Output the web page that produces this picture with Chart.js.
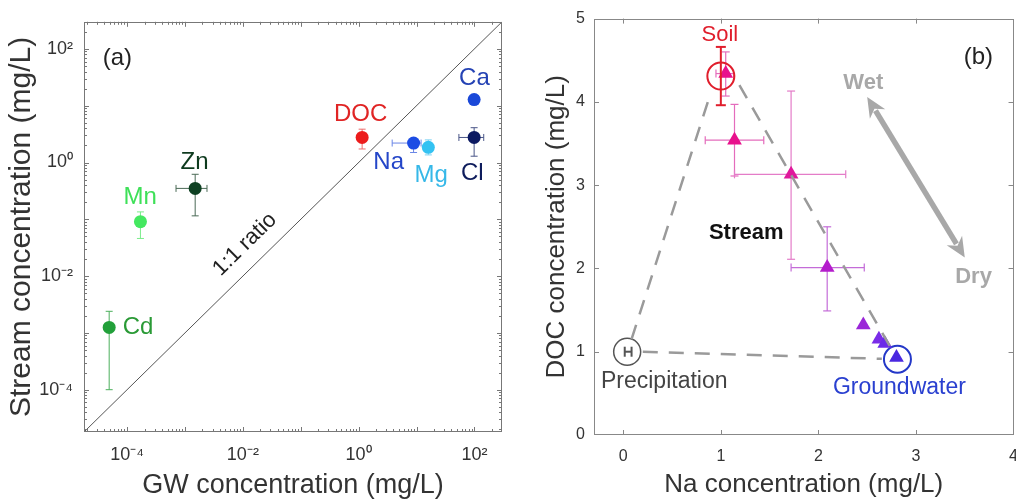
<!DOCTYPE html>
<html>
<head>
<meta charset="utf-8">
<script src="https://cdn.jsdelivr.net/npm/chart.js@4.4.0/dist/chart.umd.min.js"></script>
<style>
  html, body { margin: 0; padding: 0; background: #fff; overflow: hidden; }
  #wrapA { position: absolute; left: 0; top: 0; width: 515px; height: 499px; }
  #wrapB { position: absolute; left: 520px; top: 0; width: 510px; height: 499px; }
</style>
</head>
<body>
<div id="wrapA"><canvas id="chartA" width="515" height="499"></canvas></div>
<div id="wrapB"><canvas id="chartB" width="510" height="499"></canvas></div>
<script>
const FONT = '"Liberation Sans", Arial, Helvetica, sans-serif';

// ---- panel (a): groundwater vs stream concentration ----
const elements     = ['Cd', 'Mn', 'Zn', 'DOC', 'Na', 'Mg', 'Ca', 'Cl'];
const gwConc       = [4.9e-5, 1.7e-4, 1.5e-3, 1.15, 8.9, 16, 99, 99];
const gwLow        = [null, null, 7e-4, null, 3.8, null, null, 54];
const gwHigh       = [null, null, 2.4e-3, null, 12, null, null, 145];
const streamConc   = [1.25e-3, 0.091, 0.35, 2.76, 2.2, 1.85, 12.8, 2.76];
const streamLow    = [1e-4, 0.046, 0.115, 1.73, 1.5, 1.36, null, 1.29];
const streamHigh   = [2.4e-3, 0.135, 0.62, 3.86, 2.6, 2.5, null, 4.1];
const elementColors = ['#22a03a', '#44e860', '#0e4022', '#ec1c1c', '#1c4ce4', '#34c2f2', '#1a48d8', '#0c1a62'];
const elementErrColors = ['#4caf5c', '#7cec8c', '#4a6a56', '#ee6a6a', '#6a86e6', '#7ad2f2', '#6a86e0', '#4a5688'];
const axisRangeA   = [1.8e-5, 300];
const tickValsA    = [1e-4, 1e-2, 1, 100];
const tickTextA    = ['10⁻⁴', '10⁻²', '10⁰', '10²'];

// ---- panel (b): Na vs DOC ----
const naStream     = [1.05, 1.14, 1.72, 2.09, 2.46, 2.62, 2.68, 2.80];
const docStream    = [4.34, 3.54, 3.13, 2.01, 1.32, 1.15, 1.10, 0.93];
const naLow        = [0.95, 0.84, 1.14, 1.72, null, null, null, null];
const naHigh       = [1.13, 1.44, 2.28, 2.47, null, null, null, null];
const docLow       = [4.07, 3.11, 2.11, 1.49, null, null, null, null];
const docHigh      = [4.60, 3.97, 4.13, 2.50, null, null, null, null];
const streamColors = ['#e8108c', '#e8108c', '#e0189c', '#b41ccc', '#9a26d8', '#7a2ce8', '#6a2ce8', '#4a28e0'];
const streamErrColors = ['#e46cbc', '#e46cbc', '#e47cc8', '#c46cd8', '#b070e0', '#9a70e8', '#9070e8', '#8070e0'];

const endMembers   = ['Soil', 'Precipitation', 'Groundwater'];
const emNa         = [1.0, 0.04, 2.81];
const emDoc        = [4.31, 1.0, 0.91];
const emNaLow      = [null, 0.015, null];
const emNaHigh     = [null, 0.085, null];
const emDocLow     = [3.96, null, null];
const emDocHigh    = [4.66, null, null];
const emColors     = ['#e01e2c', '#555555', '#2438c8'];

const mixLeftNa    = [0.085, 0.90];
const mixLeftDoc   = [1.15, 4.12];
const mixRightNa   = [1.19, 2.74];
const mixRightDoc  = [4.20, 1.05];
const mixBottomNa  = [0.20, 2.65];
const mixBottomDoc = [1.00, 0.915];

const wetDryNa     = [2.5, 3.5];
const wetDryDoc    = [4.06, 2.13];

const tickValsBx   = [0, 1, 2, 3, 4];
const tickValsBy   = [0, 1, 2, 3, 4, 5];

const pts = (xs, ys) => xs.map((v, i) => ({ x: v, y: ys[i] }));

// box with inward ticks (matlab style)
const boxPlugin = {
  id: 'box',
  afterDraw(chart, args, opts) {
    const { ctx, chartArea: a, scales: { x, y } } = chart;
    ctx.save();
    ctx.strokeStyle = opts.color;
    ctx.lineWidth = 1;
    ctx.strokeRect(Math.round(a.left) + 0.5, Math.round(a.top) + 0.5,
                   Math.round(a.right - a.left) - 1, Math.round(a.bottom - a.top) - 1);
    const seg = (x1, y1, x2, y2) => { ctx.beginPath(); ctx.moveTo(x1, y1); ctx.lineTo(x2, y2); ctx.stroke(); };
    const mark = (vals, len) => {
      vals.x.forEach(v => {
        const p = Math.round(x.getPixelForValue(v)) + 0.5;
        if (p < a.left || p > a.right) return;
        seg(p, a.bottom, p, a.bottom - len);
        seg(p, a.top, p, a.top + len);
      });
      vals.y.forEach(v => {
        const p = Math.round(y.getPixelForValue(v)) + 0.5;
        if (p < a.top || p > a.bottom) return;
        seg(a.left, p, a.left + len, p);
        seg(a.right, p, a.right - len, p);
      });
    };
    mark(opts.major, 5);
    if (opts.minor) mark(opts.minor, 3);
    ctx.restore();
  }
};

function drawErrSet(chart, s) {
  const { ctx, scales: { x, y } } = chart;
  ctx.save();
  ctx.lineWidth = s.width;
  s.x.forEach((xv, i) => {
    const col = Array.isArray(s.color) ? s.color[i] : s.color;
    ctx.strokeStyle = col;
    const px = x.getPixelForValue(xv), py = y.getPixelForValue(s.y[i]);
    const line = (x1, y1, x2, y2) => { ctx.beginPath(); ctx.moveTo(x1, y1); ctx.lineTo(x2, y2); ctx.stroke(); };
    if (s.ylo && s.ylo[i] != null) {
      const p1 = y.getPixelForValue(s.ylo[i]), p2 = y.getPixelForValue(s.yhi[i]);
      line(px, p1, px, p2);
      line(px - s.cap, p1, px + s.cap, p1);
      line(px - s.cap, p2, px + s.cap, p2);
    }
    if (s.xlo && s.xlo[i] != null) {
      const p1 = x.getPixelForValue(s.xlo[i]), p2 = x.getPixelForValue(s.xhi[i]);
      line(p1, py, p2, py);
      line(p1, py - s.cap, p1, py + s.cap);
      line(p2, py - s.cap, p2, py + s.cap);
    }
  });
  ctx.restore();
}

const errPlugin = {
  id: 'errorBars',
  beforeDatasetsDraw(chart, args, opts) { (opts.before || []).forEach(s => drawErrSet(chart, s)); },
  afterDatasetsDraw(chart, args, opts) { (opts.after || []).forEach(s => drawErrSet(chart, s)); }
};

const notePlugin = {
  id: 'notes',
  afterDatasetsDraw(chart, args, opts) {
    const { ctx, scales: { x, y } } = chart;
    opts.items.forEach(n => {
      ctx.save();
      ctx.font = n.font;
      ctx.fillStyle = n.color;
      ctx.textAlign = 'center';
      ctx.textBaseline = 'middle';
      ctx.translate(x.getPixelForValue(n.x), y.getPixelForValue(n.y));
      if (n.along) {
        const ang = Math.atan2(y.getPixelForValue(n.along[1]) - y.getPixelForValue(n.along[0]),
                               x.getPixelForValue(n.along[1]) - x.getPixelForValue(n.along[0]));
        ctx.rotate(ang);
      }
      ctx.fillText(n.text, 0, 0);
      ctx.restore();
    });
  }
};

const arrowPlugin = {
  id: 'arrow',
  afterDatasetsDraw(chart, args, opts) {
    if (!opts.x) return;
    const { ctx, scales: { x, y } } = chart;
    const x1 = x.getPixelForValue(opts.x[0]), y1 = y.getPixelForValue(opts.y[0]);
    const x2 = x.getPixelForValue(opts.x[1]), y2 = y.getPixelForValue(opts.y[1]);
    const len = Math.hypot(x2 - x1, y2 - y1), ux = (x2 - x1) / len, uy = (y2 - y1) / len;
    const hl = 20, hw = 9;
    ctx.save();
    ctx.strokeStyle = opts.color;
    ctx.fillStyle = opts.color;
    ctx.lineWidth = 5.5;
    ctx.beginPath();
    ctx.moveTo(x1 + ux * hl * 0.8, y1 + uy * hl * 0.8);
    ctx.lineTo(x2 - ux * hl * 0.8, y2 - uy * hl * 0.8);
    ctx.stroke();
    const head = (tx, ty, dx, dy) => {
      ctx.beginPath();
      ctx.moveTo(tx, ty);
      ctx.lineTo(tx - dx * hl - dy * hw, ty - dy * hl + dx * hw);
      ctx.lineTo(tx - dx * hl * 0.7, ty - dy * hl * 0.7);
      ctx.lineTo(tx - dx * hl + dy * hw, ty - dy * hl - dx * hw);
      ctx.closePath();
      ctx.fill();
    };
    head(x2, y2, ux, uy);
    head(x1, y1, -ux, -uy);
    ctx.restore();
  }
};

// decade and minor ticks for log axes
const decades = [1e-4, 1e-3, 1e-2, 1e-1, 1, 10, 100];
const minorTicks = [];
[1e-5, 1e-4, 1e-3, 1e-2, 1e-1, 1, 10, 100].forEach(d => { for (let k = 2; k <= 9; k++) minorTicks.push(k * d); });

function labelFor(vals, texts) {
  return value => {
    const i = vals.findIndex(v => Math.abs(v - value) <= Math.abs(v) * 1e-6 + 1e-12);
    return i >= 0 ? texts[i] : '';
  };
}

// ---------- chart (a) ----------
new Chart(document.getElementById('chartA'), {
  type: 'scatter',
  data: {
    datasets: [
      {
        data: pts(axisRangeA, axisRangeA),
        showLine: true, borderColor: '#555', borderWidth: 1, pointRadius: 0
      },
      {
        data: pts(gwConc, streamConc),
        pointRadius: 6.5, pointBorderWidth: 0,
        pointBackgroundColor: elementColors
      }
    ]
  },
  options: {
    responsive: false, animation: false, devicePixelRatio: 1,
    layout: { padding: { top: 15, right: 13, left: 0, bottom: 0 } },
    plugins: {
      legend: { display: false }, tooltip: { enabled: false },
      box: { color: '#777', major: { x: decades, y: decades }, minor: { x: minorTicks, y: minorTicks } },
      errorBars: {
        before: [{ x: gwConc, y: streamConc, xlo: gwLow, xhi: gwHigh, ylo: streamLow, yhi: streamHigh,
                   color: elementErrColors, width: 1, cap: 3.5 }]
      },
      notes: {
        items: [
          { text: '(a)', x: 6.8e-5, y: 67, color: '#222', font: '24px ' + FONT },
          { text: 'Cd', x: 1.55e-4, y: 1.25e-3, color: '#2a9a36', font: '24px ' + FONT },
          { text: 'Mn', x: 1.68e-4, y: 0.246, color: '#3ee058', font: '24px ' + FONT },
          { text: 'Zn', x: 1.46e-3, y: 1.0, color: '#0e3a1e', font: '24px ' + FONT },
          { text: 'DOC', x: 1.08, y: 7.1, color: '#e02424', font: '24px ' + FONT },
          { text: 'Na', x: 3.3, y: 1.0, color: '#2446c8', font: '24px ' + FONT },
          { text: 'Mg', x: 17.9, y: 0.59, color: '#36b8e8', font: '24px ' + FONT },
          { text: 'Ca', x: 100, y: 30, color: '#2442b4', font: '24px ' + FONT },
          { text: 'Cl', x: 92, y: 0.64, color: '#0e1c5c', font: '24px ' + FONT },
          { text: '1:1 ratio', x: 0.0108, y: 0.036, color: '#222', font: '22px ' + FONT, along: axisRangeA }
        ]
      }
    },
    scales: {
      x: {
        type: 'logarithmic', min: axisRangeA[0], max: axisRangeA[1],
        grid: { display: false, drawTicks: false, tickLength: 0 }, border: { display: false },
        afterFit: s => { s.height = 67; },
        afterBuildTicks: s => { s.ticks = tickValsA.map(v => ({ value: v })); },
        ticks: { callback: labelFor(tickValsA, tickTextA), autoSkip: false, maxRotation: 0,
                 font: { family: FONT, size: 18 }, color: '#333', padding: 12 },
        title: { display: true, text: 'GW concentration (mg/L)', color: '#333',
                 font: { family: FONT, size: 27 }, padding: { top: 0, bottom: -3 } }
      },
      y: {
        type: 'logarithmic', min: axisRangeA[0], max: axisRangeA[1],
        grid: { display: false, drawTicks: false, tickLength: 0 }, border: { display: false },
        afterFit: s => { s.width = 84; },
        afterBuildTicks: s => { s.ticks = tickValsA.map(v => ({ value: v })); },
        ticks: { callback: labelFor(tickValsA, tickTextA), autoSkip: false,
                 font: { family: FONT, size: 18 }, color: '#333', padding: 11 },
        title: { display: true, text: 'Stream concentration (mg/L)', color: '#333',
                 font: { family: FONT, size: 30 }, padding: { top: 4, bottom: 0 } }
      }
    }
  },
  plugins: [boxPlugin, errPlugin, notePlugin]
});

// ---------- chart (b) ----------
const dashed = { showLine: true, borderColor: '#9a9a9a', borderWidth: 2.5, borderDash: [15, 11], pointRadius: 0 };
new Chart(document.getElementById('chartB'), {
  type: 'scatter',
  data: {
    datasets: [
      Object.assign({ data: pts(mixLeftNa, mixLeftDoc) }, dashed),
      Object.assign({ data: pts(mixRightNa, mixRightDoc) }, dashed),
      Object.assign({ data: pts(mixBottomNa, mixBottomDoc) }, dashed),
      {
        data: pts(naStream, docStream),
        pointStyle: 'triangle', pointRadius: 8.5, pointBorderWidth: 0,
        pointBackgroundColor: streamColors
      },
      {
        data: pts(emNa, emDoc),
        pointStyle: 'circle', pointRadius: 13.5, pointBorderWidth: [2, 1.5, 2],
        pointBorderColor: emColors, pointBackgroundColor: 'rgba(0,0,0,0)'
      }
    ]
  },
  options: {
    responsive: false, animation: false, devicePixelRatio: 1,
    layout: { padding: { top: 13, right: 13, left: 0, bottom: 0 } },
    plugins: {
      legend: { display: false }, tooltip: { enabled: false },
      box: { color: '#888', major: { x: tickValsBx, y: tickValsBy } },
      errorBars: {
        before: [{ x: naStream, y: docStream, xlo: naLow, xhi: naHigh, ylo: docLow, yhi: docHigh,
                   color: streamErrColors, width: 1.2, cap: 4 }],
        after: [{ x: emNa, y: emDoc, xlo: emNaLow, xhi: emNaHigh, ylo: emDocLow, yhi: emDocHigh,
                  color: emColors, width: 2, cap: 5 }]
      },
      arrow: { x: wetDryNa, y: wetDryDoc, color: '#a8a8a8' },
      notes: {
        items: [
          { text: '(b)', x: 3.64, y: 4.54, color: '#222', font: '24px ' + FONT },
          { text: 'Soil', x: 0.99, y: 4.8, color: '#e01e2c', font: '22px ' + FONT },
          { text: 'Wet', x: 2.46, y: 4.23, color: '#a8a8a8', font: 'bold 22px ' + FONT },
          { text: 'Dry', x: 3.59, y: 1.9, color: '#a8a8a8', font: 'bold 22px ' + FONT },
          { text: 'Stream', x: 1.26, y: 2.43, color: '#111', font: 'bold 22px ' + FONT },
          { text: 'Precipitation', x: 0.42, y: 0.64, color: '#444', font: '23px ' + FONT },
          { text: 'Groundwater', x: 2.83, y: 0.57, color: '#2a40d0', font: '23px ' + FONT }
        ]
      }
    },
    scales: {
      x: {
        type: 'linear', min: -0.3, max: 4,
        grid: { display: false, drawTicks: false, tickLength: 0 }, border: { display: false },
        afterFit: s => { s.height = 64; },
        afterBuildTicks: s => { s.ticks = tickValsBx.map(v => ({ value: v })); },
        ticks: { autoSkip: false, maxRotation: 0, font: { family: FONT, size: 16 }, color: '#333', padding: 12 },
        title: { display: true, text: 'Na concentration (mg/L)', color: '#333',
                 font: { family: FONT, size: 26 }, padding: { top: 0, bottom: -1 } }
      },
      y: {
        type: 'linear', min: 0, max: 5,
        grid: { display: false, drawTicks: false, tickLength: 0 }, border: { display: false },
        afterFit: s => { s.width = 74; },
        afterBuildTicks: s => { s.ticks = tickValsBy.map(v => ({ value: v })); },
        ticks: { autoSkip: false, font: { family: FONT, size: 16 }, color: '#333', padding: 9 },
        title: { display: true, text: 'DOC concentration (mg/L)', color: '#333',
                 font: { family: FONT, size: 26 }, padding: { top: 21, bottom: 0 } }
      }
    }
  },
  plugins: [boxPlugin, errPlugin, arrowPlugin, notePlugin]
});
</script>
</body>
</html>
